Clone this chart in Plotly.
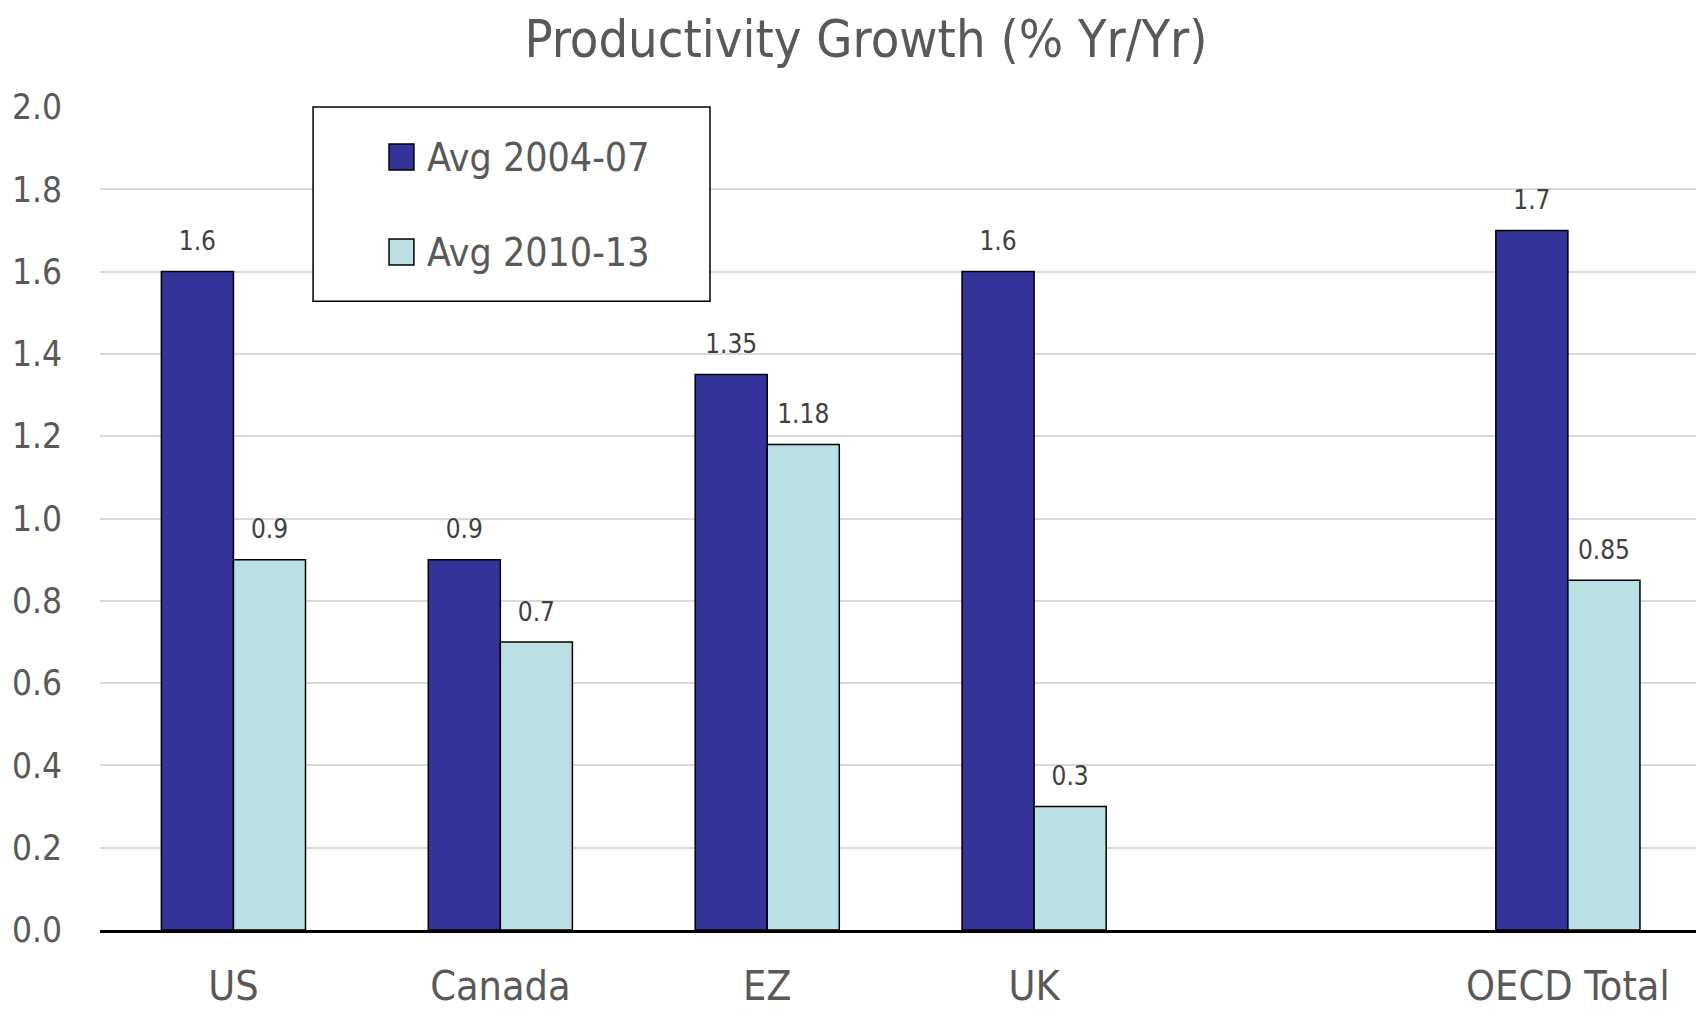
import plotly.graph_objects as go

# Productivity growth, average % year over year
categories = ["US", "Canada", "EZ", "UK", " ", "OECD Total"]
series_names = ["Avg 2004-07", "Avg 2010-13"]
avg_2004_07 = [1.6, 0.9, 1.35, 1.6, None, 1.7]
avg_2010_13 = [0.9, 0.7, 1.18, 0.3, None, 0.85]
y_ticks = [0.0, 0.2, 0.4, 0.6, 0.8, 1.0, 1.2, 1.4, 1.6, 1.8, 2.0]

FONT = "DejaVu Sans Condensed, Liberation Sans Narrow, sans-serif"
TEXT_GREY = "#595959"
colors = ["#333399", "#BBE0E3"]
groups = ["g1", "g2"]


def fmt(v):
    return "" if v is None else f"{v:g}"


fig = go.Figure()
for name, vals, col, grp in zip(series_names, [avg_2004_07, avg_2010_13], colors, groups):
    fig.add_trace(go.Bar(
        x=categories, y=vals, name=name, offsetgroup=grp,
        marker=dict(color=col, line=dict(color="black", width=1.5)),
        showlegend=False,
    ))
    # value labels sitting above each bar
    fig.add_trace(go.Scatter(
        x=categories, y=vals, offsetgroup=grp, mode="markers+text",
        marker=dict(size=22, opacity=0), text=[fmt(v) for v in vals],
        textposition="top center", textfont=dict(family=FONT, size=26, color="#404040"),
        cliponaxis=False, showlegend=False, hoverinfo="skip",
    ))

# Boxed legend drawn in paper coordinates
legend_box = dict(x0=0.1335, x1=0.3822, y0=0.764, y1=1.0)
fig.add_shape(type="rect", xref="paper", yref="paper", **legend_box,
              line=dict(color="black", width=1.5), fillcolor="white", layer="above")
swatch_y = [(0.9234, 0.955), (0.808, 0.8396)]
label_y = [0.9392, 0.8238]
for name, col, (y0, y1), ly in zip(series_names, colors, swatch_y, label_y):
    fig.add_shape(type="rect", xref="paper", yref="paper",
                  x0=0.1811, x1=0.1967, y0=y0, y1=y1,
                  line=dict(color="black", width=1.5), fillcolor=col, layer="above")
    fig.add_annotation(xref="paper", yref="paper", x=0.2036, y=ly,
                       xanchor="left", yanchor="middle", text=name, showarrow=False,
                       font=dict(family=FONT, size=39, color=TEXT_GREY))

fig.update_layout(
    width=1696, height=1009,
    margin=dict(l=100, r=0, t=107, b=79),
    paper_bgcolor="white", plot_bgcolor="white",
    barmode="group", bargap=0.46, bargroupgap=0,
    scattermode="group", scattergap=0.46,
    title=dict(text="Productivity Growth (% Yr/Yr)", xref="container", yref="container",
               x=0.5106, y=0.962, xanchor="center", yanchor="middle",
               font=dict(family=FONT, size=52, color=TEXT_GREY)),
    font=dict(family=FONT, color=TEXT_GREY),
)
fig.update_xaxes(
    type="category", range=[-0.5, 5.48], automargin=False, showgrid=False,
    showline=True, linecolor="black", linewidth=2.5,
    ticks="outside", ticklen=18, tickcolor="rgba(0,0,0,0)",
    tickfont=dict(family=FONT, size=41, color=TEXT_GREY),
)
fig.update_yaxes(
    range=[0, 2.0], tickvals=y_ticks, ticktext=[f"{t:.1f}" for t in y_ticks],
    automargin=False, showgrid=True, gridcolor="#D9D9D9", gridwidth=2,
    zeroline=False, showline=False,
    ticks="outside", ticklen=30, tickcolor="rgba(0,0,0,0)",
    tickfont=dict(family=FONT, size=35, color=TEXT_GREY),
)

fig.write_html("out.html")
